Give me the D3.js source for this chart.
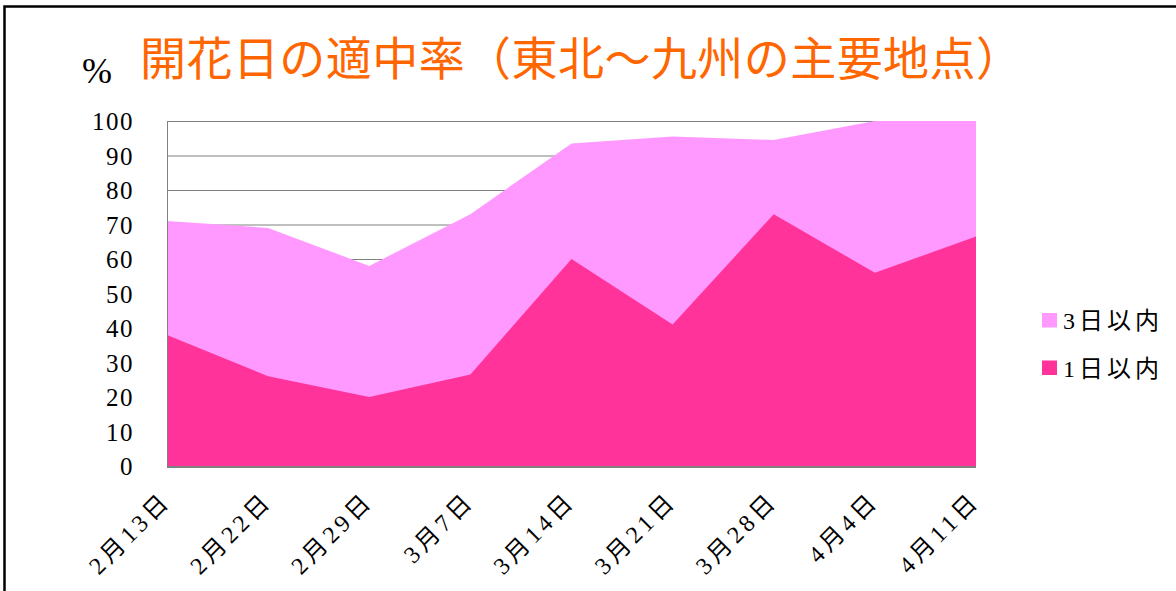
<!DOCTYPE html>
<html>
<head>
<meta charset="utf-8">
<script src="https://cdn.jsdelivr.net/npm/d3@7"></script>
<style>
  body { margin: 0; background: #fff; }
  text { font-family: "Liberation Serif", "Noto Sans CJK JP", serif; }
</style>
</head>
<body>
<div id="chart"></div>
<script>
// categories and series (percent)
var dates = ["2月13日", "2月22日", "2月29日", "3月7日", "3月14日", "3月21日", "3月28日", "4月4日", "4月11日"];
var within1 = [38, 26, 20, 26.5, 60, 41, 73, 56, 66.5];
var within3 = [71, 69, 58, 73, 93.5, 95.5, 94.5, 100, 100];
var yTicks = [0, 10, 20, 30, 40, 50, 60, 70, 80, 90, 100];
var seriesNames = ["3日以内", "1日以内"];
var seriesColors = ["#ff99ff", "#ff3399"];

var w = 1176, h = 591;
// plot area edges
var pLeft = 167, pRight = 976, pTop = 121, pBottom = 466;

var svg = d3.select("#chart")
  .append("svg")
  .attr("width", w)
  .attr("height", h);

// outer frame (runs off the right and bottom of the picture)
svg.append("rect")
  .attr("x", 4.5).attr("y", 6.5)
  .attr("width", 1300).attr("height", 700)
  .attr("fill", "none")
  .attr("stroke", "#000")
  .attr("stroke-width", 2.5);

var x = d3.scalePoint()
  .domain(dates)
  .range([pLeft, pRight]);
var y = d3.scaleLinear()
  .domain([0, 100])
  .range([pBottom, pTop]);

// gridlines
svg.append("g")
  .selectAll("line")
  .data(yTicks)
  .enter()
  .append("line")
  .attr("x1", pLeft).attr("x2", pRight)
  .attr("y1", function(d) { return y(d) + 0.5; })
  .attr("y2", function(d) { return y(d) + 0.5; })
  .attr("stroke", "#808080")
  .attr("stroke-width", 1);

// areas, 3日 first so 1日 sits on top
var series = [within3, within1];
var area = d3.area()
  .x(function(d, i) { return x(dates[i]); })
  .y0(y(0))
  .y1(function(d) { return y(d); });

svg.append("g")
  .selectAll("path")
  .data(series)
  .enter()
  .append("path")
  .attr("d", area)
  .attr("fill", function(d, i) { return seriesColors[i]; });

// axis lines
svg.append("line")
  .attr("x1", pLeft + 0.5).attr("x2", pLeft + 0.5)
  .attr("y1", pTop).attr("y2", pBottom)
  .attr("stroke", "#808080");
svg.append("line")
  .attr("x1", pLeft).attr("x2", pRight)
  .attr("y1", pBottom + 1).attr("y2", pBottom + 1)
  .attr("stroke", "#808080")
  .attr("stroke-width", 2);

// y axis labels
var yAxis = d3.axisLeft(y).tickValues(yTicks).tickSize(0).tickPadding(0);
var yg = svg.append("g")
  .attr("transform", "translate(134,0)")
  .call(yAxis);
yg.select(".domain").remove();
yg.selectAll("text")
  .attr("font-size", 25)
  .attr("font-family", "Liberation Serif")
  .attr("letter-spacing", 1.5)
  .attr("fill", "#000")
  .attr("dy", "0.34em");

// x axis labels, rotated
var ls = 4;
var xAxis = d3.axisBottom(x).tickSize(0).tickPadding(0);
var xg = svg.append("g")
  .attr("transform", "translate(0," + pBottom + ")")
  .call(xAxis);
xg.select(".domain").remove();
xg.selectAll("text")
  .attr("font-size", 24)
  .attr("letter-spacing", ls)
  .attr("fill", "#000")
  .attr("text-anchor", "end")
  .attr("x", 0).attr("y", 0).attr("dy", 0)
  .attr("transform", "translate(" + (2 + ls * 0.707) + "," + (39 - ls * 0.707) + ") rotate(-45)");

// legend
var legend = svg.append("g")
  .selectAll("g")
  .data(seriesNames)
  .enter()
  .append("g")
  .attr("transform", function(d, i) { return "translate(1042," + (313 + i * 47.5) + ")"; });
legend.append("rect")
  .attr("width", 15).attr("height", 14.5)
  .attr("fill", function(d, i) { return seriesColors[i]; });
legend.append("text")
  .attr("x", 21).attr("y", 16)
  .attr("font-size", 24)
  .attr("letter-spacing", 4)
  .text(function(d) { return d; });

// title
svg.append("text")
  .attr("x", 82).attr("y", 83)
  .attr("font-size", 36)
  .attr("font-family", "Liberation Serif")
  .text("%");
svg.append("text")
  .attr("x", 140).attr("y", 75)
  .attr("font-size", 46)
  .attr("font-family", "Noto Sans CJK JP")
  .attr("fill", "#ff6600")
  .attr("textLength", 882)
  .attr("lengthAdjust", "spacing")
  .text("開花日の適中率（東北～九州の主要地点）");
</script>
</body>
</html>
